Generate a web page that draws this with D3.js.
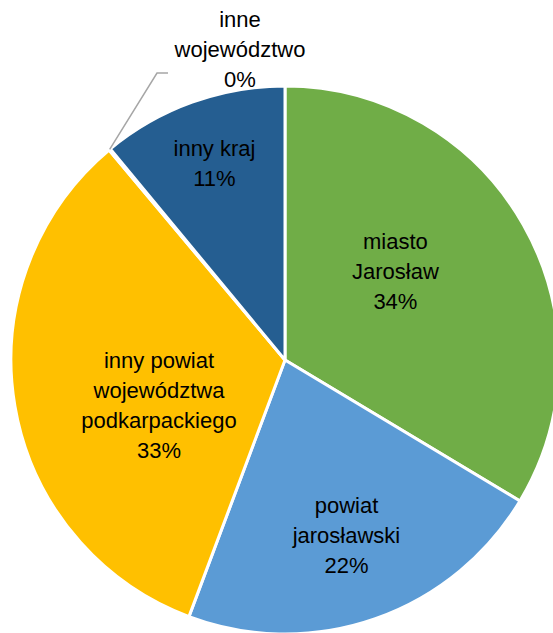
<!DOCTYPE html>
<html lang="pl">
<head>
<meta charset="utf-8">
<title>pie chart</title>
<script src="https://d3js.org/d3.v7.min.js"></script>
<style>
  html, body { margin: 0; padding: 0; background: #fff; }
  svg text { font-family: "Liberation Sans", Arial, sans-serif; font-size: 22px; fill: #000; }
</style>
</head>
<body>
<div id="chart"></div>
<script>
// chart data
var categories = ["miasto Jarosław", "powiat jarosławski", "inny powiat województwa podkarpackiego", "inne województwo", "inny kraj"];
var labelLines = [["miasto", "Jarosław"], ["powiat", "jarosławski"], ["inny powiat", "województwa", "podkarpackiego"], ["inne", "województwo"], ["inny kraj"]];
var shares = [33.6, 22.1, 33.2, 0.1, 11.0];
var colors = ["#70AD47", "#5B9BD5", "#FFC000", "#A5A5A5", "#255E91"];

// layout
var width = 553, height = 633;
var cx = 285, cy = 360, R = 274;
var lineH = 30;
// where each inside label sits: fraction of radius, shift from mid angle (deg)
var labelRadius = [0.515, 0.68, 0.49, null, 0.76];
var labelShift = [-9, 0, -10.5, 0, 0];

var svg = d3.select("#chart").append("svg")
    .attr("width", width)
    .attr("height", height);

var g = svg.append("g").attr("transform", "translate(" + cx + "," + cy + ")");

var pie = d3.pie().sort(null).value(function(d){ return d; });
var arcs = pie(shares);
var arc = d3.arc().innerRadius(0).outerRadius(R);

g.selectAll("path")
    .data(arcs)
    .enter().append("path")
    .attr("d", arc)
    .attr("fill", function(d, i){ return colors[i]; })
    .attr("stroke", "#fff")
    .attr("stroke-width", 3)
    .attr("stroke-linejoin", "round");

function pct(v){ return Math.round(v) + "%"; }

// inside labels
arcs.forEach(function(d, i){
  if (labelRadius[i] == null) return;
  var a = (d.startAngle + d.endAngle) / 2 + labelShift[i] * Math.PI / 180;
  var r = R * labelRadius[i];
  var x = r * Math.sin(a), y = -r * Math.cos(a);
  var lines = labelLines[i].concat([pct(shares[i])]);
  var t = g.append("text").attr("text-anchor", "middle");
  lines.forEach(function(s, k){
    t.append("tspan")
      .attr("x", x)
      .attr("y", y + (k - (lines.length - 1) / 2) * lineH + 7)
      .text(s);
  });
});

// outside label for the tiny slice with a leader line
var tiny = arcs[3];
var ta = (tiny.startAngle + tiny.endAngle) / 2;
var edge = [R * Math.sin(ta), -R * Math.cos(ta)];
var lx = -45, ly = -R - 36;
var outLines = labelLines[3].concat([pct(shares[3])]);
var elbow = [lx - 83, ly + 23];
g.append("polyline")
  .attr("points", [edge, elbow, [elbow[0] + 11, elbow[1]]].map(function(p){ return p.join(","); }).join(" "))
  .attr("fill", "none")
  .attr("stroke", "#A6A6A6")
  .attr("stroke-width", 1.5);
var ot = g.append("text").attr("text-anchor", "middle");
outLines.forEach(function(s, k){
  ot.append("tspan")
    .attr("x", lx)
    .attr("y", ly + (k - (outLines.length - 1) / 2) * lineH + 7)
    .text(s);
});
</script>
</body>
</html>
